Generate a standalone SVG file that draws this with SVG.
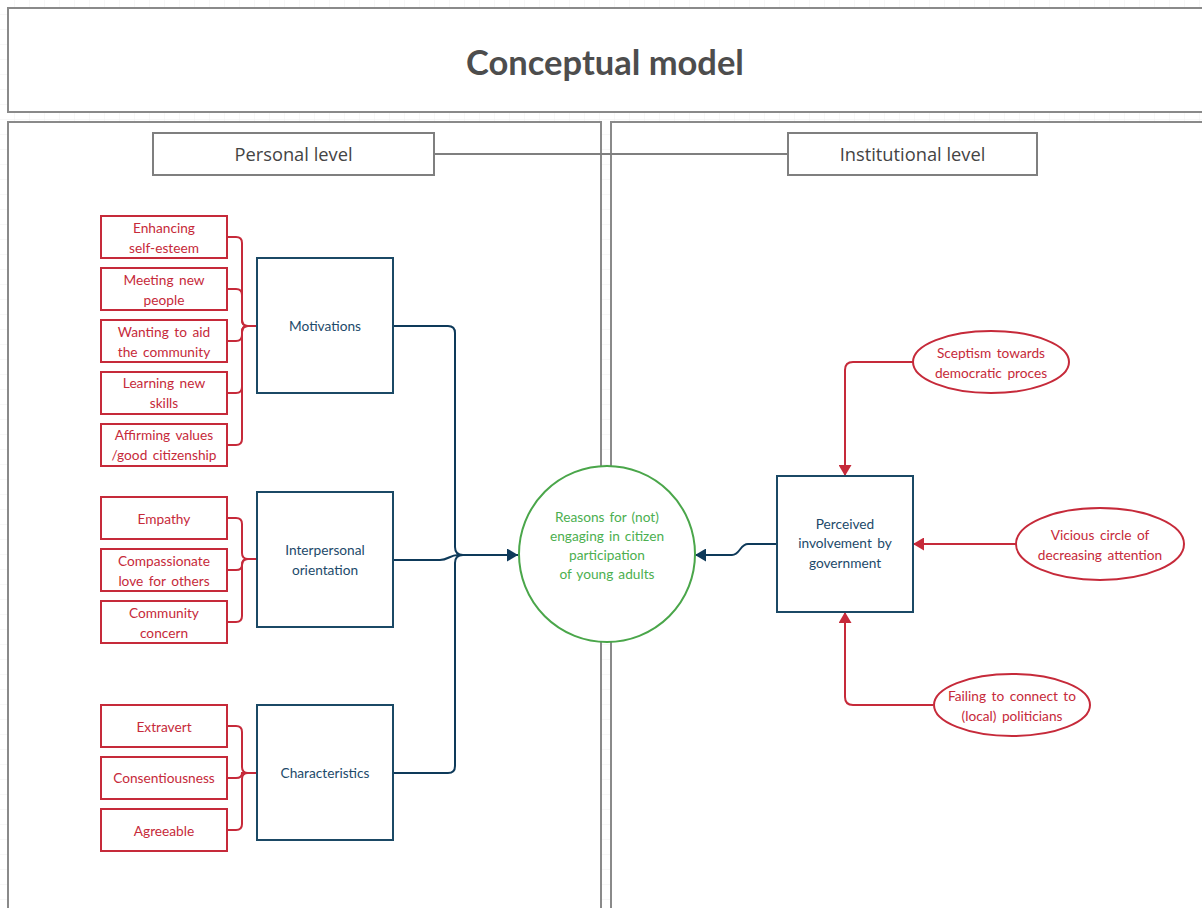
<svg xmlns="http://www.w3.org/2000/svg" width="1202" height="908" viewBox="0 0 1202 908">
<defs>
<pattern id="grid" width="15" height="15" patternUnits="userSpaceOnUse">
<path d="M15,0 V15 M0,15 H15" fill="none" stroke="#efefef" stroke-width="1"/>
</pattern>
<marker id="arrB" viewBox="0 0 11 13" refX="11" refY="6.5" markerWidth="11" markerHeight="13" markerUnits="userSpaceOnUse" orient="auto">
<path d="M0,0 L11,6.5 L0,13 z" fill="#0e3a5a"/>
</marker>
<marker id="arrR" viewBox="0 0 11 13" refX="11" refY="6.5" markerWidth="11" markerHeight="13" markerUnits="userSpaceOnUse" orient="auto">
<path d="M0,0 L11,6.5 L0,13 z" fill="#c62a3a"/>
</marker>
</defs>
<style>
.panel{fill:#fff;stroke:#8a8a8a;stroke-width:2}
.lvl{fill:#fff;stroke:#7f7f7f;stroke-width:2}
.lvlt{font-family:"Open Sans","Liberation Sans",sans-serif;font-size:18.3px;fill:#444;text-anchor:middle}
.rbox{fill:#fff;stroke:#c62a3a;stroke-width:2}
.rt{font-family:Lato,"Liberation Sans",sans-serif;font-size:13.7px;word-spacing:2px;fill:#c62a3a;text-anchor:middle}
.bbox{fill:#fff;stroke:#1b4965;stroke-width:2}
.bt{font-family:Lato,"Liberation Sans",sans-serif;font-size:13.7px;word-spacing:2px;fill:#1d4a6a;text-anchor:middle}
.gt{font-family:Lato,"Liberation Sans",sans-serif;font-size:13.7px;word-spacing:1.5px;fill:#4caf50;text-anchor:middle}
.rl{fill:none;stroke:#c62a3a;stroke-width:2}
.bl{fill:none;stroke:#0e3a5a;stroke-width:2}
.gl{fill:none;stroke:#7f7f7f;stroke-width:2}
</style>
<rect x="0" y="0" width="1202" height="908" fill="#fff"/>
<rect x="0" y="0" width="1202" height="908" fill="url(#grid)"/>

<g id="title">
<rect class="panel" x="8" y="8" width="1200" height="104"/>
<text x="605" y="75" font-family="Lato,'Liberation Sans',sans-serif" font-size="34.5" font-weight="bold" fill="#4d4d4d" text-anchor="middle">Conceptual model</text>
</g>

<g id="panel-personal">
<rect class="panel" x="8" y="122" width="593" height="800"/>
</g>
<g id="panel-institutional">
<rect class="panel" x="611" y="122" width="600" height="800"/>
</g>

<g id="connectors">
<path class="gl" d="M434,154 H788"/>
<path class="rl" d="M227,237 H236 Q242,237 242,243 V320 Q242,326 248,326 H257"/>
<path class="rl" d="M227,289 H236 Q242,289 242,295 V320 Q242,326 248,326"/>
<path class="rl" d="M227,341 H236 Q242,341 242,335 V332 Q242,326 248,326"/>
<path class="rl" d="M227,393 H236 Q242,393 242,387 V332 Q242,326 248,326"/>
<path class="rl" d="M227,445 H236 Q242,445 242,439 V332 Q242,326 248,326"/>
<path class="rl" d="M227,518 H236 Q242,518 242,524 V553 Q242,559 248,559 H257"/>
<path class="rl" d="M227,570 H236 Q242,570 242,565 Q242,559 248,559"/>
<path class="rl" d="M227,622 H236 Q242,622 242,616 V565 Q242,559 248,559"/>
<path class="rl" d="M227,726 H236 Q242,726 242,732 V767 Q242,773 248,773 H257"/>
<path class="rl" d="M227,778 H236 Q242,778 242,773 Q242,773 248,773"/>
<path class="rl" d="M227,830 H236 Q242,830 242,824 V779 Q242,773 248,773"/>
<path class="bl" d="M393,326 H448 Q455,326 455,333 V547 Q455,555 463,555 H518" marker-end="url(#arrB)"/>
<path class="bl" d="M393,773 H448 Q455,773 455,766 V563 Q455,555 463,555"/>
<path class="bl" d="M393,560 H440 C448,560 450,555 458,555"/>
<path class="bl" d="M777,544 H748 C740,544 740,555 732,555 H695" marker-end="url(#arrB)"/>
<path class="rl" d="M913,362 H853 Q845,362 845,370 V476" marker-end="url(#arrR)"/>
<path class="rl" d="M1016,544 H913" marker-end="url(#arrR)"/>
<path class="rl" d="M933,705 H853 Q845,705 845,697 V612" marker-end="url(#arrR)"/>
</g>

<g id="personal-level">
<rect class="lvl" x="153" y="133" width="281" height="42"/>
<text class="lvlt" x="293.5" y="161">Personal level</text>
</g>
<g id="institutional-level">
<rect class="lvl" x="788" y="133" width="249" height="42"/>
<text class="lvlt" x="912.5" y="161">Institutional level</text>
</g>

<g id="enhancing">
<rect class="rbox" x="101" y="216" width="126" height="42"/>
<text class="rt" x="164" y="233">Enhancing</text>
<text class="rt" x="164" y="253">self-esteem</text>
</g>
<g id="meeting">
<rect class="rbox" x="101" y="268" width="126" height="42"/>
<text class="rt" x="164" y="285">Meeting new</text>
<text class="rt" x="164" y="305">people</text>
</g>
<g id="wanting">
<rect class="rbox" x="101" y="320" width="126" height="42"/>
<text class="rt" x="164" y="337">Wanting to aid</text>
<text class="rt" x="164" y="357">the community</text>
</g>
<g id="learning">
<rect class="rbox" x="101" y="372" width="126" height="42"/>
<text class="rt" x="164" y="388">Learning new</text>
<text class="rt" x="164" y="408">skills</text>
</g>
<g id="affirming">
<rect class="rbox" x="101" y="424" width="126" height="42"/>
<text class="rt" x="164" y="440">Affirming values</text>
<text class="rt" x="164" y="460">/good citizenship</text>
</g>

<g id="motivations">
<rect class="bbox" x="257" y="258" width="136" height="135"/>
<text class="bt" x="325" y="331">Motivations</text>
</g>

<g id="empathy">
<rect class="rbox" x="101" y="497" width="126" height="42"/>
<text class="rt" x="164" y="524">Empathy</text>
</g>
<g id="compassionate">
<rect class="rbox" x="101" y="549" width="126" height="42"/>
<text class="rt" x="164" y="566">Compassionate</text>
<text class="rt" x="164" y="586">love for others</text>
</g>
<g id="community">
<rect class="rbox" x="101" y="601" width="126" height="42"/>
<text class="rt" x="164" y="618">Community</text>
<text class="rt" x="164" y="638">concern</text>
</g>

<g id="interpersonal">
<rect class="bbox" x="257" y="492" width="136" height="135"/>
<text class="bt" x="325" y="555">Interpersonal</text>
<text class="bt" x="325" y="575">orientation</text>
</g>

<g id="extravert">
<rect class="rbox" x="101" y="705" width="126" height="42"/>
<text class="rt" x="164" y="732">Extravert</text>
</g>
<g id="consentiousness">
<rect class="rbox" x="101" y="757" width="126" height="42"/>
<text class="rt" x="164" y="783">Consentiousness</text>
</g>
<g id="agreeable">
<rect class="rbox" x="101" y="809" width="126" height="42"/>
<text class="rt" x="164" y="836">Agreeable</text>
</g>

<g id="characteristics">
<rect class="bbox" x="257" y="705" width="136" height="135"/>
<text class="bt" x="325" y="778">Characteristics</text>
</g>

<g id="reasons">
<circle cx="607" cy="554" r="88" fill="#fff" stroke="#4aa64a" stroke-width="2"/>
<text class="gt" x="607" y="522">Reasons for (not)</text>
<text class="gt" x="607" y="541">engaging in citizen</text>
<text class="gt" x="607" y="560">participation</text>
<text class="gt" x="607" y="579">of young adults</text>
</g>

<g id="perceived">
<rect class="bbox" x="777" y="476" width="136" height="136"/>
<text class="bt" x="845" y="529">Perceived</text>
<text class="bt" x="845" y="548">involvement by</text>
<text class="bt" x="845" y="568">government</text>
</g>

<g id="sceptism">
<ellipse cx="991" cy="362" rx="78" ry="31" fill="#fff" stroke="#c62a3a" stroke-width="2"/>
<text class="rt" x="991" y="358">Sceptism towards</text>
<text class="rt" x="991" y="378">democratic proces</text>
</g>
<g id="vicious">
<ellipse cx="1100" cy="544" rx="84" ry="36" fill="#fff" stroke="#c62a3a" stroke-width="2"/>
<text class="rt" x="1100" y="540">Vicious circle of</text>
<text class="rt" x="1100" y="560">decreasing attention</text>
</g>
<g id="failing">
<ellipse cx="1012" cy="705" rx="78" ry="31" fill="#fff" stroke="#c62a3a" stroke-width="2"/>
<text class="rt" x="1012" y="701">Failing to connect to</text>
<text class="rt" x="1012" y="721">(local) politicians</text>
</g>
</svg>
